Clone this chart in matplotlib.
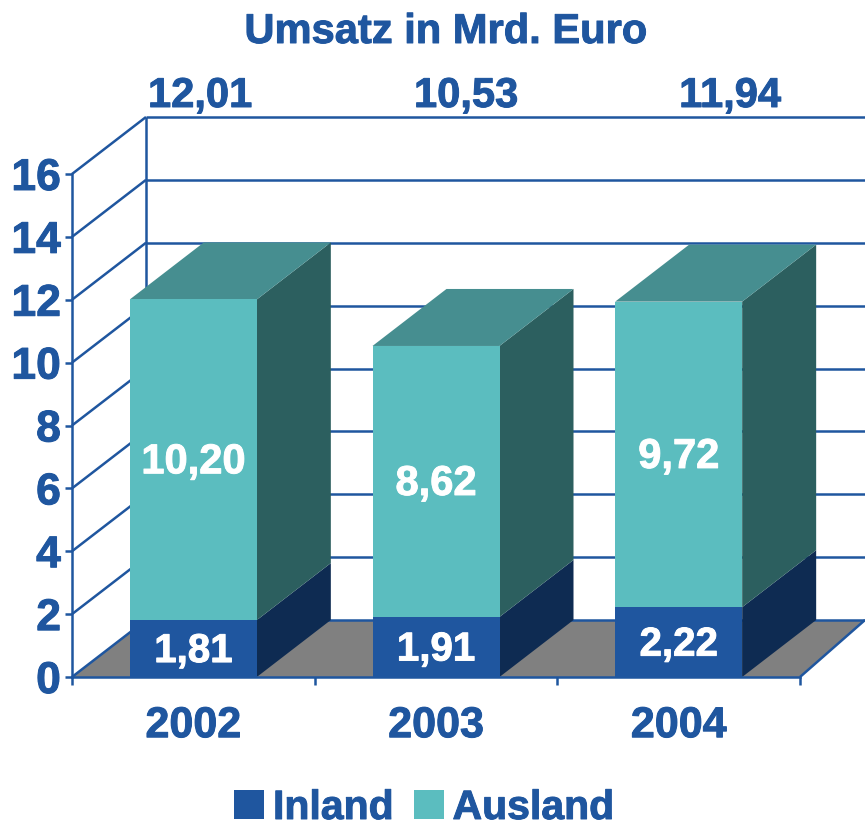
import matplotlib
matplotlib.use("Agg")
import matplotlib.pyplot as plt
import matplotlib.patheffects as pe
from matplotlib.patches import Polygon, Patch

plt.rcParams['font.family'] = ['Liberation Sans', 'DejaVu Sans']

years = ['2002', '2003', '2004']
inland = [1.81, 1.91, 2.22]
ausland = [10.20, 8.62, 9.72]
totals = ['12,01', '10,53', '11,94']
inland_labels = ['1,81', '1,91', '2,22']
ausland_labels = ['10,20', '8,62', '9,72']
yticks = [0, 2, 4, 6, 8, 10, 12, 14, 16]

BLUE = '#1F569F'
BLUE_SIDE = '#0E2B52'
TEAL = '#5BBDBF'
TEAL_TOP = '#468E90'
TEAL_SIDE = '#2C5F5F'
GRAY = '#808080'

W, H = 865, 826
fig = plt.figure(figsize=(W / 100, H / 100), dpi=100, facecolor='white')
ax = fig.add_axes([72 / W, (H - 677) / H, 728 / W, 503 / H])
ax.set_xlim(0, 3)
ax.set_ylim(0, 16)
ax.patch.set_visible(False)

DX = 74 / (728 / 3)        # depth offset in category units
DY = 57 / (503 / 16)       # depth offset in value units
XEND = 3 + 65 / (728 / 3)  # right figure edge
BAR_W = 127 / (728 / 3)
TEXT_SHIFT = 0.08          # optical centring of bar labels, in value units
LW = 1.8


def heavy(color, w=0.7):
    return [pe.withStroke(linewidth=w, foreground=color)]


def poly(pts, color, z):
    ax.add_patch(Polygon(pts, closed=True, facecolor=color, edgecolor='none',
                         lw=0, zorder=z, clip_on=False))


def line(xs, ys, z=2):
    ax.plot(xs, ys, color=BLUE, lw=LW, zorder=z, clip_on=False, solid_capstyle='butt')


# floor
poly([(0, 0), (DX, DY), (XEND, DY), (3, 0)], GRAY, 1)
# walls
for v in yticks:
    line([0, DX], [v, v + DY])
    line([DX, XEND], [v + DY, v + DY])
line([DX, DX], [DY, 16 + DY])
line([3, XEND], [0, DY])

# bars
for i in range(3):
    c = i + 0.5
    l, r = c - BAR_W / 2, c + BAR_W / 2
    a, b = inland[i], inland[i] + ausland[i]
    ax.bar(c, inland[i], width=BAR_W, color=BLUE, zorder=5, clip_on=False)
    ax.bar(c, ausland[i], bottom=a, width=BAR_W, color=TEAL, zorder=5, clip_on=False)
    poly([(r, 0), (r + DX, DY), (r + DX, a + DY), (r, a)], BLUE_SIDE, 4)
    poly([(r, a), (r + DX, a + DY), (r + DX, b + DY), (r, b)], TEAL_SIDE, 4)
    poly([(l, b), (l + DX, b + DY), (r + DX, b + DY), (r, b)], TEAL_TOP, 4)
    ax.text(c, a / 2 - TEXT_SHIFT, inland_labels[i], color='white', fontsize=29, fontweight='bold',
            ha='center', va='center', zorder=6, path_effects=heavy('white'))
    ax.text(c, a + ausland[i] / 2 - TEXT_SHIFT, ausland_labels[i], color='white', fontsize=30,
            fontweight='bold', ha='center', va='center', zorder=6, path_effects=heavy('white'))

# axes and ticks
for s in ['top', 'right']:
    ax.spines[s].set_visible(False)
for s in ['left', 'bottom']:
    ax.spines[s].set_color(BLUE)
    ax.spines[s].set_linewidth(LW)
    ax.spines[s].set_zorder(7)
ax.set_yticks(yticks)
ax.set_yticklabels([str(v) for v in yticks], color=BLUE, fontsize=32, fontweight='bold',
                   path_effects=heavy(BLUE))
ax.set_xticks([0, 1, 2, 3])
ax.set_xticklabels([])
ax.set_xticks([0.5, 1.5, 2.5], labels=years, minor=True, color=BLUE, fontsize=31, fontweight='bold',
              path_effects=heavy(BLUE))
ax.tick_params(axis='x', which='major', length=6, width=LW, color=BLUE, direction='out')
ax.tick_params(axis='x', which='minor', length=0, pad=21)
ax.tick_params(axis='y', length=5, width=LW, color=BLUE, direction='out', pad=3)

# header
fig.text(446 / W, 1 - 32 / H, 'Umsatz in Mrd. Euro', color=BLUE, fontsize=30, fontweight='bold',
         ha='center', va='center', path_effects=heavy(BLUE))
for t, px in zip(totals, [200, 466, 730]):
    fig.text(px / W, 1 - 96 / H, t, color=BLUE, fontsize=30, fontweight='bold', ha='center', va='center',
             path_effects=heavy(BLUE))

# legend
handles = [Patch(facecolor=BLUE, label='Inland'), Patch(facecolor=TEAL, label='Ausland')]
leg = fig.legend(handles=handles, loc='center', bbox_to_anchor=(424 / W, 1 - 808 / H), ncol=2, frameon=False,
                 prop={'size': 29.5, 'weight': 'bold'}, labelcolor=BLUE, handlelength=0.73, handleheight=0.73,
                 handletextpad=0.22, columnspacing=0.49, borderpad=0, borderaxespad=0)
for t in leg.get_texts():
    t.set_path_effects(heavy(BLUE))

fig.savefig('out.png', dpi=100)
